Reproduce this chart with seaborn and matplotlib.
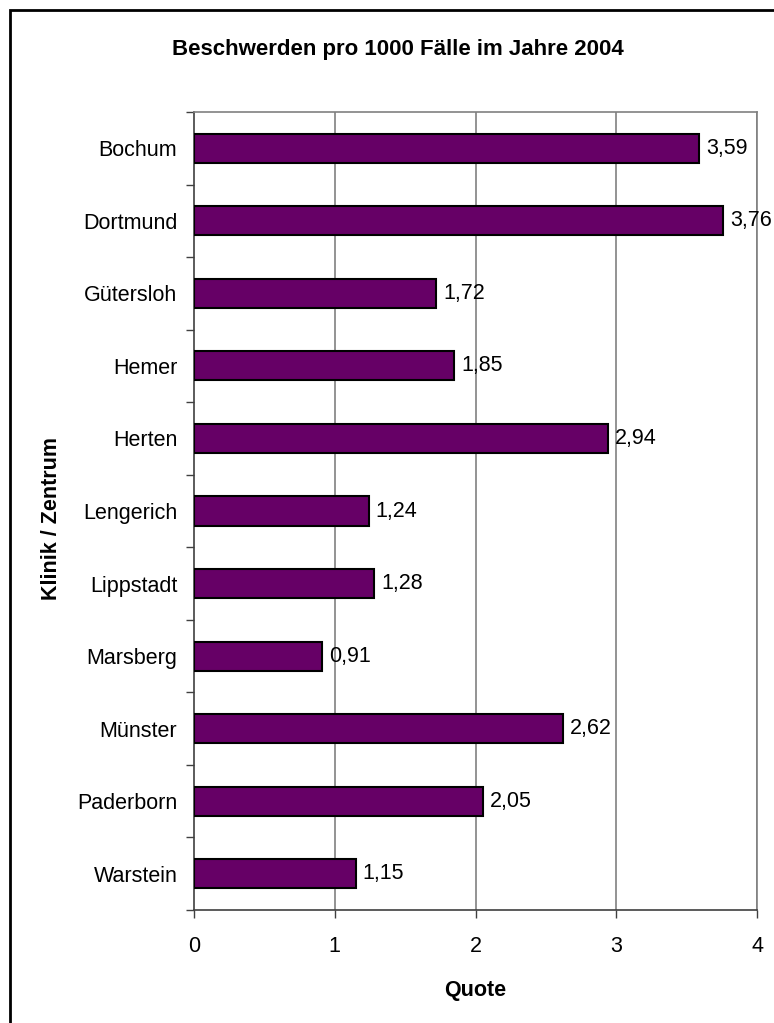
import matplotlib
matplotlib.use("Agg")
import matplotlib.pyplot as plt
import seaborn as sns
import pandas as pd
from matplotlib.patches import Rectangle

categories = ["Bochum", "Dortmund", "Gütersloh", "Hemer", "Herten", "Lengerich",
              "Lippstadt", "Marsberg", "Münster", "Paderborn", "Warstein"]
values = [3.59, 3.76, 1.72, 1.85, 2.94, 1.24, 1.28, 0.91, 2.62, 2.05, 1.15]
x_ticks = [0, 1, 2, 3, 4]
title = "Beschwerden pro 1000 Fälle im Jahre 2004"
xlabel = "Quote"
ylabel = "Klinik / Zentrum"

df = pd.DataFrame({"Klinik": categories, "Quote": values})

sns.set_theme(style="white")
plt.rcParams["font.family"] = ["Liberation Sans", "DejaVu Sans"]

W, H = 774, 1023
fig = plt.figure(figsize=(W / 100, H / 100), dpi=100)
ax = fig.add_axes([194 / W, 1 - 910 / H, (757 - 194) / W, (910 - 112) / H])

sns.barplot(data=df, x="Quote", y="Klinik", orient="h", color="#660066",
            saturation=1, width=0.4, edgecolor="black", linewidth=1.5, ax=ax, zorder=3)

n = len(categories)
ax.set_xlim(0, 4)
ax.set_ylim(n - 0.5, -0.5)
ax.set_xticks(x_ticks)
ax.set_xticklabels([str(t) for t in x_ticks])
ax.grid(False)
for t in x_ticks[1:]:
    ax.axvline(t, color="#808080", lw=1.2, zorder=1)

# category ticks at boundaries
ax.set_yticks([i - 0.5 for i in range(n + 1)], minor=True)
ax.tick_params(axis="y", which="minor", length=6, width=1, color="#404040", direction="out", left=True)
ax.tick_params(axis="y", which="major", length=0, pad=12, labelsize=15.5, labelcolor="black")
ax.tick_params(axis="x", which="major", length=6, width=1, color="#404040", direction="out",
               bottom=True, pad=13, labelsize=15.5, labelcolor="black")

for side in ["left", "bottom"]:
    ax.spines[side].set_color("#404040")
    ax.spines[side].set_linewidth(1.2)
for side in ["top", "right"]:
    ax.spines[side].set_color("#808080")
    ax.spines[side].set_linewidth(1.2)
    ax.spines[side].set_visible(True)

for i, v in enumerate(values):
    ax.annotate(f"{v:.2f}".replace(".", ","), xy=(v, i), xytext=(5, 0),
                textcoords="offset points", va="center", ha="left",
                fontsize=15.5, color="black", zorder=5, annotation_clip=False)

ax.set_xlabel(xlabel, fontsize=15.5, fontweight="bold", labelpad=16, color="black")
ax.set_ylabel(ylabel, fontsize=15.5, fontweight="bold", color="black")
ax.yaxis.set_label_coords((52 - 194) / (757 - 194), 0.49)
ax.yaxis.label.set_va("center")

fig.text(398 / W, 1 - 49 / H, title, ha="center", va="center",
         fontsize=16, fontweight="bold", color="black")

# figure border (only top and left visible in the reference)
fig.patches.append(Rectangle((10 / W, -0.5), 3.0, 1 - 10 / H + 0.5, transform=fig.transFigure,
                             fill=False, edgecolor="black", linewidth=2))

fig.savefig("out.png", dpi=100, facecolor="white")
